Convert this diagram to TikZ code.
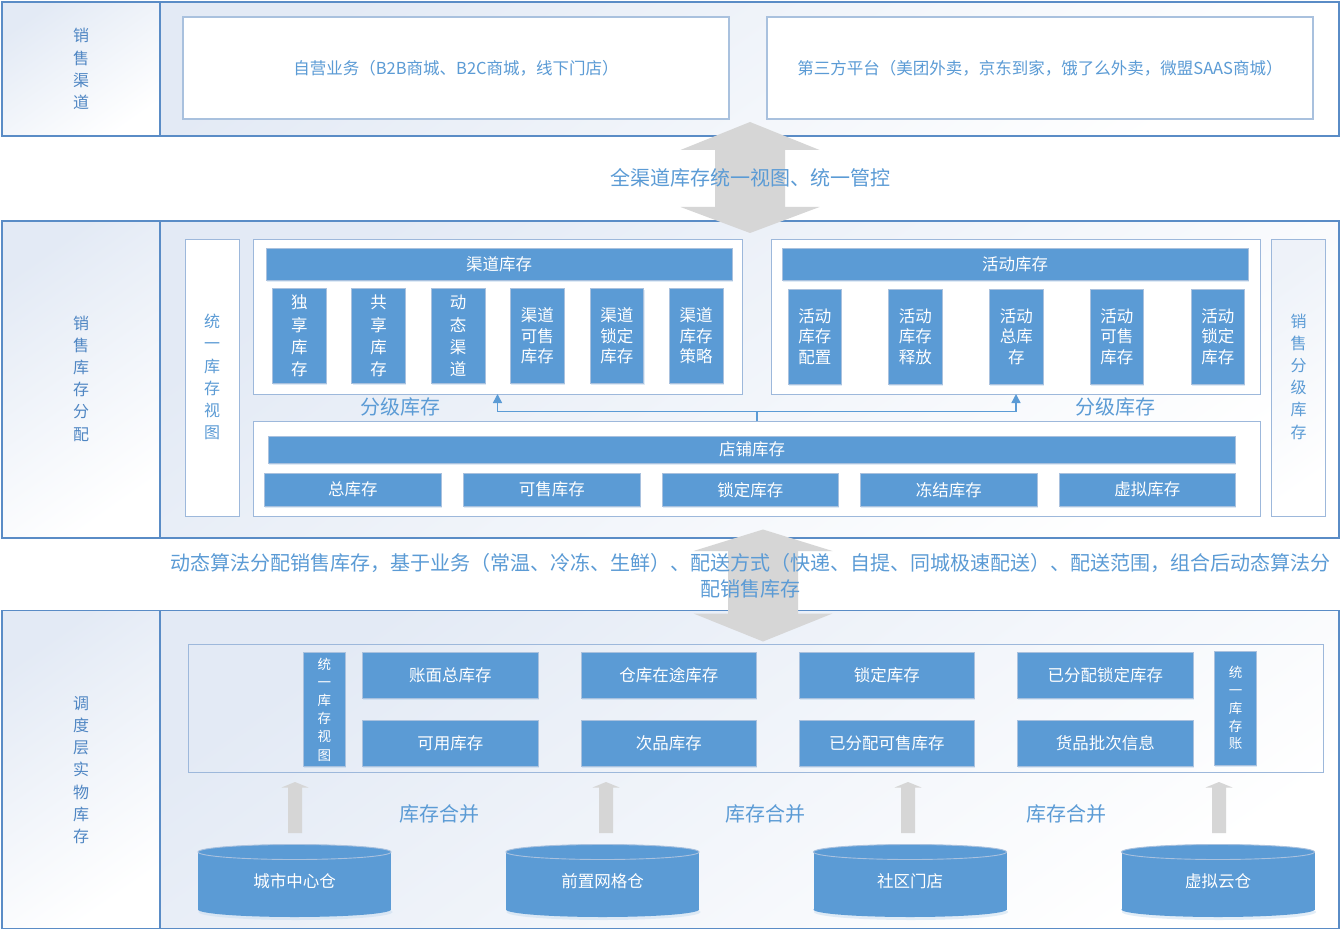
\documentclass[tikz,border=0pt]{standalone}
\usepackage{fontspec}
\setmainfont{Noto Sans CJK SC}
\usetikzlibrary{arrows.meta,shadows,calc}
\definecolor{bfill}{HTML}{5B9BD5}
\definecolor{bedge}{HTML}{A9C1DE}
\definecolor{secedge}{HTML}{5A8CC6}
\definecolor{inedge}{HTML}{9DB8DB}
\definecolor{txt}{HTML}{5B9BD5}
\definecolor{lbl}{HTML}{4F86C3}
\definecolor{grad}{HTML}{E3EAF5}
\definecolor{garrow}{HTML}{D6D6D6}
\newcommand\myfs[2]{\fontsize{#1}{#2}\selectfont}
\newcommand\dblarrow[5]{%
  \fill[garrow] (#1,#2) -- ({#1+69.5},#3) -- ({#1+35},#3) -- ({#1+35},#4) -- ({#1+69.5},#4) -- (#1,#5)
    -- ({#1-69.5},#4) -- ({#1-35},#4) -- ({#1-35},#3) -- ({#1-69.5},#3) -- cycle;}
\newcommand\smallarrow[1]{%
  \fill[garrow] (#1,782) -- ({#1+13.5},787.5) -- ({#1+7},787.5) -- ({#1+7},833) -- ({#1-7},833)
    -- ({#1-7},787.5) -- ({#1-13.5},787.5) -- cycle;}
\newcommand\cylbody[1]{%
  \fill[bfill!35,opacity=0.5] ({#1+1},912) ellipse [x radius=97, y radius=8];
  \fill[bfill] ({#1-96.5},852) rectangle ({#1+96.5},909.5);
  \fill[bfill] (#1,909.5) ellipse [x radius=96.5, y radius=7.5];
  \filldraw[fill=bfill, draw=bedge, line width=0.9pt] (#1,852) ellipse [x radius=96.5, y radius=7.5];}
\tikzset{
  every node/.style={inner sep=0pt, outer sep=0pt},
  cell/.style={anchor=north west, draw=secedge, line width=1.2pt, top color=grad, bottom color=white, shading angle=35},
  wbox/.style={anchor=north west, draw=inedge, line width=1pt, fill=white},
  tbox/.style={anchor=north west, draw=inedge, line width=1pt, top color=grad!60, bottom color=white, shading angle=35},
  obox/.style={anchor=north west, draw=inedge, line width=1pt},
  bbox/.style={anchor=north west, fill=bfill, draw=bedge, line width=0.8pt, text=white, align=center,
    font=\myfs{16.5}{20}, drop shadow={shadow xshift=0.8pt, shadow yshift=-1.6pt, opacity=0.35, fill=bfill!55}},
  vtext/.style={text=lbl, align=center, font=\myfs{16}{22.2}},
  btext/.style={text=txt, align=center, font=\myfs{16.5}{20}},
  big/.style={text=txt, align=center, font=\myfs{20}{26}},
  ctext/.style={text=white, font=\myfs{16.5}{20}},
  conn/.style={draw=bfill, line width=1.5pt, -{Triangle[width=9pt,length=9pt]}}
}
\begin{document}
\begin{tikzpicture}[x=1pt,y=-1pt]
\useasboundingbox (0,0) rectangle (1341,936);
\fill[white] (0,0) rectangle (1341,936);

% ---------- top section ----------
\node[cell, minimum width=158, minimum height=134] (l1) at (2,2) {};
\node[cell, minimum width=1179, minimum height=134] (c1) at (160,2) {};
\node[vtext] (l1t) at (81,69) {销\\售\\渠\\道};
\node[wbox, draw=bedge, line width=1.4pt, minimum width=546, minimum height=102] (self) at (183,17) {};
\node[btext] (selft) at (self.center) {自营业务（B2B商城、B2C商城，线下门店）};
\node[wbox, draw=bedge, line width=1.4pt, minimum width=546, minimum height=102] (third) at (767,17) {};
\node[btext] (thirdt) at (third.center) {第三方平台（美团外卖，京东到家，饿了么外卖，微盟SAAS商城）};

% ---------- middle section ----------
\node[cell, minimum width=158, minimum height=317] (l2) at (2,221) {};
\node[cell, minimum width=1179, minimum height=317] (c2) at (160,221) {};
\node[vtext] (l2t) at (81,378.5) {销\\售\\库\\存\\分\\配};

\node[wbox, minimum width=54, minimum height=277] (uview) at (185,239) {};
\node[vtext, text=txt] (uviewt) at (212,377) {统\\一\\库\\存\\视\\图};

\node[wbox, minimum width=489, minimum height=155] (chan) at (253,239) {};
\node[bbox, minimum width=466, minimum height=32] (chanh) at (266,248) {渠道库存};
\node[bbox, minimum width=53.5, minimum height=95, font=\myfs{16.5}{22.3}] (ch1) at (272.6,288.5) {独\\享\\库\\存};
\node[bbox, minimum width=53.5, minimum height=95, font=\myfs{16.5}{22.3}] (ch2) at (351.8,288.5) {共\\享\\库\\存};
\node[bbox, minimum width=53.5, minimum height=95, font=\myfs{16.5}{22.3}] (ch3) at (431.4,288.5) {动\\态\\渠\\道};
\node[bbox, minimum width=53.5, minimum height=95, font=\myfs{16.5}{20.5}] (ch4) at (510.6,288.5) {渠道\\可售\\库存};
\node[bbox, minimum width=53.5, minimum height=95, font=\myfs{16.5}{20.5}] (ch5) at (590.2,288.5) {渠道\\锁定\\库存};
\node[bbox, minimum width=53.5, minimum height=95, font=\myfs{16.5}{20.5}] (ch6) at (669.4,288.5) {渠道\\库存\\策略};

\node[wbox, minimum width=489, minimum height=155] (act) at (771.5,239) {};
\node[bbox, minimum width=466, minimum height=32] (acth) at (782,248) {活动库存};
\node[bbox, minimum width=53.5, minimum height=95, font=\myfs{16.5}{20.5}] (ac1) at (788,289) {活动\\库存\\配置};
\node[bbox, minimum width=53.5, minimum height=95, font=\myfs{16.5}{20.5}] (ac2) at (888.5,289) {活动\\库存\\释放};
\node[bbox, minimum width=53.5, minimum height=95, font=\myfs{16.5}{20.5}] (ac3) at (989.5,289) {活动\\总库\\存};
\node[bbox, minimum width=53.5, minimum height=95, font=\myfs{16.5}{20.5}] (ac4) at (1090,289) {活动\\可售\\库存};
\node[bbox, minimum width=53.5, minimum height=95, font=\myfs{16.5}{20.5}] (ac5) at (1191,289) {活动\\锁定\\库存};

\node[tbox, minimum width=54.5, minimum height=277] (tier) at (1271,239) {};
\node[vtext, text=txt] (tiert) at (1298.5,376.5) {销\\售\\分\\级\\库\\存};

\node[wbox, minimum width=1007, minimum height=95.5] (store) at (253.5,421) {};
\node[bbox, minimum width=967, minimum height=27.5] (storeh) at (268.5,436) {店铺库存};
\node[bbox, minimum width=176.5, minimum height=32.5] (st1) at (264.5,473.5) {总库存};
\node[bbox, minimum width=176.5, minimum height=32.5] (st2) at (463.5,473.5) {可售库存};
\node[bbox, minimum width=176.5, minimum height=32.5] (st3) at (662,473.5) {锁定库存};
\node[bbox, minimum width=176.5, minimum height=32.5] (st4) at (860.5,473.5) {冻结库存};
\node[bbox, minimum width=176.5, minimum height=32.5] (st5) at (1059,473.5) {虚拟库存};

\draw[conn] (store.north) -- ++(0,-9.5) -| (chan.south);
\draw[conn] (store.north) -- ++(0,-9.5) -| (act.south);
\node[big] (tierl) at (400,407) {分级库存};
\node[big] (tierr) at (1115,407) {分级库存};

% ---------- lower section ----------
\node[cell, minimum width=158, minimum height=318] (l3) at (2,610.5) {};
\node[cell, minimum width=1179, minimum height=318] (c3) at (160,610.5) {};
\node[vtext] (l3t) at (81,770) {调\\度\\层\\实\\物\\库\\存};

\node[obox, minimum width=1135, minimum height=128] (phys) at (188,644) {};
\node[bbox, minimum width=41.5, minimum height=114, font=\myfs{13.5}{18.2}] (uv2) at (303.5,652.5) {统\\一\\库\\存\\视\\图};
\node[bbox, minimum width=175.5, minimum height=46] (p1) at (362.5,652.5) {账面总库存};
\node[bbox, minimum width=175.5, minimum height=46] (p2) at (362.5,720.5) {可用库存};
\node[bbox, minimum width=175.5, minimum height=46] (p3) at (581,652.5) {仓库在途库存};
\node[bbox, minimum width=175.5, minimum height=46] (p4) at (581,720.5) {次品库存};
\node[bbox, minimum width=175.5, minimum height=46] (p5) at (799,652.5) {锁定库存};
\node[bbox, minimum width=175.5, minimum height=46] (p6) at (799,720.5) {已分配可售库存};
\node[bbox, minimum width=175.5, minimum height=46] (p7) at (1017.5,652.5) {已分配锁定库存};
\node[bbox, minimum width=175.5, minimum height=46] (p8) at (1017.5,720.5) {货品批次信息};
\node[bbox, minimum width=42, minimum height=114, font=\myfs{13.5}{17.9}] (ledger) at (1214.5,651) {统\\一\\库\\存\\账};

\smallarrow{295}
\smallarrow{606}
\smallarrow{908}
\smallarrow{1219}
\node[big] (m1) at (439,813.5) {库存合并};
\node[big] (m2) at (765,813.5) {库存合并};
\node[big] (m3) at (1066,813.5) {库存合并};

\cylbody{294.5}
\cylbody{602.5}
\cylbody{910}
\cylbody{1218}
\node[ctext] (w1) at (294.5,881) {城市中心仓};
\node[ctext] (w2) at (602.5,881) {前置网格仓};
\node[ctext] (w3) at (910,881) {社区门店};
\node[ctext] (w4) at (1218,881) {虚拟云仓};

% ---------- big arrows and band texts ----------
\dblarrow{750}{122}{150}{207}{233}
\node[big] (band1) at (750,178) {全渠道库存统一视图、统一管控};
\dblarrow{763}{529.5}{551}{613.5}{641.5}
\node[big] (band2) at (750,576) {动态算法分配销售库存，基于业务（常温、冷冻、生鲜）、配送方式（快递、自提、同城极速配送）、配送范围，组合后动态算法分\\配销售库存};
\end{tikzpicture}
\end{document}
